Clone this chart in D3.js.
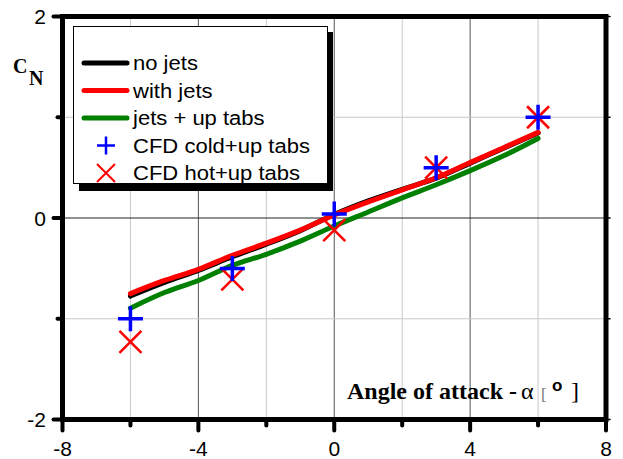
<!DOCTYPE html>
<html><head><meta charset="utf-8">
<script src="https://cdn.jsdelivr.net/npm/d3@7"></script>
<style>body{margin:0;background:#fff}svg{display:block}</style>
</head><body><svg id="c" width="623" height="459"></svg>
<script>
// ---- data ----
const alphaX     = [-6, -5, -4, -3, -2, -1, 0, 1, 2, 3, 4, 5, 6];
const noJets     = [-0.775, -0.64, -0.52, -0.385, -0.26, -0.125, 0.035, 0.17, 0.285, 0.395, 0.545, 0.695, 0.845];
const withJets   = [-0.75, -0.62, -0.51, -0.37, -0.25, -0.12, 0.03, 0.16, 0.28, 0.40, 0.55, 0.70, 0.85];
const jetsUpTabs = [-0.895, -0.74, -0.62, -0.47, -0.36, -0.23, -0.08, 0.06, 0.20, 0.33, 0.47, 0.62, 0.79];
const cfdAlpha   = [-6, -3, 0, 3, 6];
const cfdCold    = [-1.0, -0.5, 0.04, 0.5, 1.0];
const cfdHot     = [-1.23, -0.61, -0.12, 0.5, 1.0];
const xMajor = [-8, -4, 0, 4, 8];
const xMinor = [-6, -2, 2, 6];
const yMajor = [-2, 0, 2];
const yMinor = [-1, 1];
const legendLabels = ["no jets", "with jets", "jets + up tabs", "CFD cold+up tabs", "CFD hot+up tabs"];

// ---- scales ----
const svg = d3.select("#c");
const x = d3.scaleLinear().domain([-8, 8]).range([62.5, 606]);
const y = d3.scaleLinear().domain([-2, 2]).range([419.5, 16.5]);

// ---- grid ----
const g = svg.append("g");
g.selectAll(".vmin").data(xMinor).join("line")
  .attr("x1", d => x(d)).attr("x2", d => x(d)).attr("y1", y(2)).attr("y2", y(-2))
  .attr("stroke", "#c8c8c8").attr("stroke-width", 1);
g.selectAll(".vmaj").data(xMajor.slice(1, -1)).join("line")
  .attr("x1", d => x(d)).attr("x2", d => x(d)).attr("y1", y(2)).attr("y2", y(-2))
  .attr("stroke", "#555").attr("stroke-width", 1);
g.selectAll(".hmin").data(yMinor).join("line")
  .attr("y1", d => y(d)).attr("y2", d => y(d)).attr("x1", x(-8)).attr("x2", x(8))
  .attr("stroke", "#c8c8c8").attr("stroke-width", 1);
g.selectAll(".hmaj").data(yMajor.slice(1, -1)).join("line")
  .attr("y1", d => y(d)).attr("y2", d => y(d)).attr("x1", x(-8)).attr("x2", x(8))
  .attr("stroke", "#222").attr("stroke-width", 1);

// ---- legend ----
const lg = svg.append("g");
lg.append("rect").attr("x", 79).attr("y", 32).attr("width", 254).attr("height", 159).attr("fill", "#000");
lg.append("rect").attr("x", 73.5).attr("y", 26.5).attr("width", 254).attr("height", 157)
  .attr("fill", "#fff").attr("stroke", "#000").attr("stroke-width", 1);
const rowY = [63, 90.5, 118, 145.5, 173];
const lineCols = ["#000", "#ff0000", "#008000"];
lineCols.forEach((c, i) => {
  lg.append("line").attr("x1", 84).attr("x2", 127).attr("y1", rowY[i]).attr("y2", rowY[i])
    .attr("stroke", c).attr("stroke-width", 5).attr("stroke-linecap", "round");
});
// legend markers
lg.append("path").attr("d", `M97,${rowY[3]}H115M106,${rowY[3]-9}V${rowY[3]+9}`)
  .attr("stroke", "#0000ff").attr("stroke-width", 2.5).attr("fill", "none");
lg.append("path").attr("d", `M97,${rowY[4]-9}L115,${rowY[4]+9}M97,${rowY[4]+9}L115,${rowY[4]-9}`)
  .attr("stroke", "#ff0000").attr("stroke-width", 2).attr("fill", "none");
legendLabels.forEach((t, i) => {
  lg.append("text").attr("transform", `translate(133,${rowY[i] + 7}) scale(1.13,1)`)
    .attr("font-family", "Liberation Sans, Arial, sans-serif").attr("font-size", 19.5)
    .attr("fill", "#000").text(t);
});

// ---- curves ----
const line = d3.line().x((d, i) => x(alphaX[i])).y(d => y(d)).curve(d3.curveMonotoneX);
[[noJets, "#000"], [withJets, "#ff0000"], [jetsUpTabs, "#008000"]].forEach(([s, c]) => {
  svg.append("path").attr("d", line(s)).attr("fill", "none").attr("stroke", c)
    .attr("stroke-width", 5).attr("stroke-linecap", "round").attr("stroke-linejoin", "round");
});

// ---- CFD markers ----
svg.selectAll(".hot").data(cfdHot).join("path")
  .attr("d", (d, i) => { const cx = x(cfdAlpha[i]), cy = y(d), h = 11;
    return `M${cx-h},${cy-h}L${cx+h},${cy+h}M${cx-h},${cy+h}L${cx+h},${cy-h}`; })
  .attr("stroke", "#ff0000").attr("stroke-width", 2.5).attr("fill", "none");
svg.selectAll(".cold").data(cfdCold).join("path")
  .attr("d", (d, i) => { const cx = x(cfdAlpha[i]), cy = y(d), h = 12.5;
    return `M${cx-h},${cy}H${cx+h}M${cx},${cy-h}V${cy+h}`; })
  .attr("stroke", "#0000ff").attr("stroke-width", 3.5).attr("fill", "none");

// ---- frame ----
svg.append("rect").attr("x", x(-8)).attr("y", y(2)).attr("width", x(8) - x(-8)).attr("height", y(-2) - y(2))
  .attr("fill", "none").attr("stroke", "#000").attr("stroke-width", 5);

// ---- ticks ----
const tk = svg.append("g").attr("stroke", "#000").attr("stroke-linecap", "round");
xMajor.forEach(d => tk.append("line").attr("x1", x(d)).attr("x2", x(d)).attr("y1", y(-2)).attr("y2", y(-2) + 11).attr("stroke-width", 4));
xMinor.forEach(d => tk.append("line").attr("x1", x(d)).attr("x2", x(d)).attr("y1", y(-2)).attr("y2", y(-2) + 6).attr("stroke-width", 4));
yMajor.forEach(d => tk.append("line").attr("y1", y(d)).attr("y2", y(d)).attr("x1", x(-8)).attr("x2", x(-8) - 9).attr("stroke-width", 4));
yMinor.forEach(d => tk.append("line").attr("y1", y(d)).attr("y2", y(d)).attr("x1", x(-8)).attr("x2", x(-8) - 5).attr("stroke-width", 4));
yMajor.concat(yMinor).forEach(d => tk.append("line").attr("y1", y(d)).attr("y2", y(d)).attr("x1", x(8)).attr("x2", x(8) + 4).attr("stroke-width", 1.5));

// ---- tick labels ----
const fmt = d => d < 0 ? "-" + Math.abs(d) : String(d);
svg.selectAll(".xl").data(xMajor).join("text")
  .attr("x", d => x(d)).attr("y", 456).attr("text-anchor", "middle")
  .attr("font-family", "Liberation Sans, Arial, sans-serif").attr("font-size", 21).text(fmt);
svg.selectAll(".yl").data(yMajor).join("text")
  .attr("x", 46).attr("y", d => y(d) + 7.5).attr("text-anchor", "end")
  .attr("font-family", "Liberation Sans, Arial, sans-serif").attr("font-size", 21).text(fmt);

// ---- axis titles ----
const yt = svg.append("text").attr("font-family", "Liberation Serif, Times New Roman, serif").attr("font-weight", "bold").attr("font-size", 20);
yt.append("tspan").attr("x", 13).attr("y", 73).text("C");
yt.append("tspan").attr("x", 29).attr("y", 85).text("N");

const serif = "Liberation Serif, Times New Roman, serif";
svg.append("text").attr("x", 347).attr("y", 399).attr("font-family", serif).attr("font-weight", "bold")
  .attr("font-size", 24).text("Angle of attack - ");
svg.append("text").attr("x", 521).attr("y", 399).attr("font-family", serif).attr("font-size", 24).text("α");
svg.append("text").attr("x", 541).attr("y", 400).attr("font-family", serif).attr("font-size", 17).attr("fill", "#777").text("[");
svg.append("text").attr("x", 552).attr("y", 391).attr("font-family", "Liberation Sans, Arial, sans-serif").attr("font-weight", "bold").attr("font-size", 17).text("o");
svg.append("text").attr("x", 571).attr("y", 399).attr("font-family", serif).attr("font-size", 24).text("]");
</script></body></html>
